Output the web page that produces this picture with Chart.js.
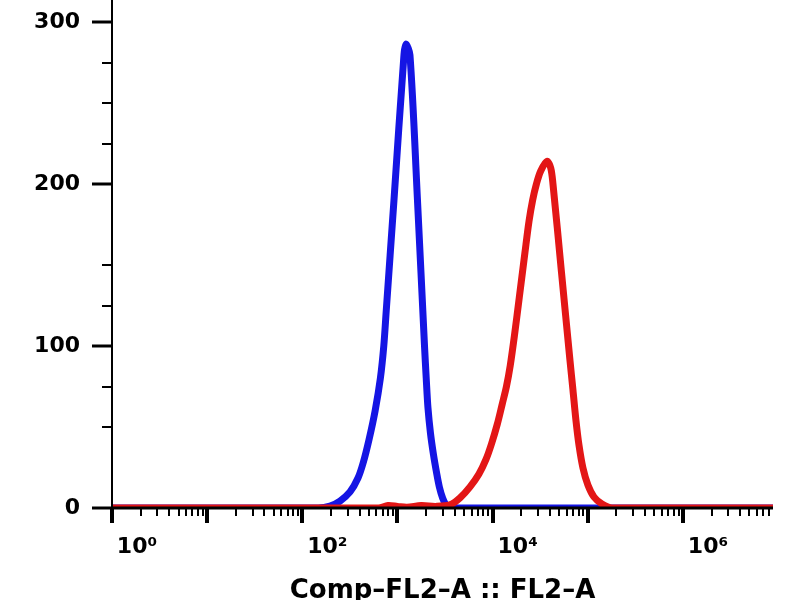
<!DOCTYPE html>
<html>
<head>
<meta charset="utf-8">
<script src="https://cdn.jsdelivr.net/npm/chart.js@4.4.0/dist/chart.umd.min.js"></script>
<style>
  html, body { margin: 0; padding: 0; background: #fff; }
</style>
</head>
<body>
<canvas id="c" width="800" height="600"></canvas>
<script>
// x values are in decades (log10 of FL2-A), y values are counts
const blueX = [0, 2.165, 2.291, 2.396, 2.501, 2.585, 2.64, 2.70, 2.765, 2.82, 2.856, 2.882, 2.963, 3.068, 3.089, 3.131, 3.210, 3.284, 3.302, 3.32, 3.347, 3.378, 3.41, 3.44, 3.475, 3.51, 3.56, 3.64, 6.95];
const blueY = [0, 0, 1.2, 4.3, 9.9, 18.5, 28, 42, 60, 80, 100, 122, 190, 279.6, 286.4, 279.6, 190, 100, 80, 62, 46, 33, 22, 13, 6, 2, 0.5, 0, 0];

const redX = [0, 2.8, 2.9, 3.0, 3.1, 3.25, 3.4, 3.552, 3.657, 3.762, 3.856, 3.93, 3.99, 4.05, 4.10, 4.145, 4.185, 4.228, 4.28, 4.34, 4.382, 4.42, 4.46, 4.505, 4.571, 4.61, 4.634, 4.723, 4.812, 4.844, 4.875, 4.907, 4.949, 5.001, 5.065, 5.149, 5.254, 6.95];
const redY = [0, 0, 1.5, 1, 0.5, 1.5, 1, 1.9, 6.2, 13, 21, 30, 40, 52, 64, 75, 88, 106, 130, 158, 177, 190, 200, 208, 214, 210, 200, 145.7, 91.4, 72.8, 54.3, 38.9, 24.7, 14.2, 6.8, 2.5, 0, 0];

const xTickValues = [0, 2, 4, 6];
const xTickLabels = ['10⁰', '10²', '10⁴', '10⁶'];
const yTickValues = [0, 100, 200, 300];
const yMinorValues = [50, 75, 125, 150, 225, 250, 275];
const xTitle = 'Comp–FL2–A :: FL2–A';

function toPoints(xs, ys) {
    return xs.map((x, i) => ({ x: x, y: ys[i] }));
}

// axis lines and tick marks, drawn on top of the curves
const tickMarks = {
    id: 'tickMarks',
    afterDraw(chart) {
        const ctx = chart.ctx;
        const xs = chart.scales.x;
        const ys = chart.scales.y;
        const area = chart.chartArea;
        ctx.save();
        ctx.strokeStyle = '#000';

        // x axis minor/major ticks per decade
        for (let d = 0; d <= 6; d++) {
            for (let m = 1; m <= 9; m++) {
                const v = d + Math.log10(m);
                if (v > xs.max) break;
                const px = Math.round(xs.getPixelForValue(v));
                const major = m === 1;
                ctx.lineWidth = major ? 4 : 2;
                ctx.beginPath();
                ctx.moveTo(px, area.bottom);
                ctx.lineTo(px, area.bottom + (major ? 15 : 8));
                ctx.stroke();
            }
        }

        // y axis ticks
        yTickValues.forEach(v => {
            const py = Math.round(ys.getPixelForValue(v));
            ctx.lineWidth = 3;
            ctx.beginPath();
            ctx.moveTo(area.left - 20, py);
            ctx.lineTo(area.left, py);
            ctx.stroke();
        });
        yMinorValues.forEach(v => {
            const py = Math.round(ys.getPixelForValue(v));
            ctx.lineWidth = 2;
            ctx.beginPath();
            ctx.moveTo(area.left - 10, py);
            ctx.lineTo(area.left, py);
            ctx.stroke();
        });

        // axis lines
        ctx.lineWidth = 2;
        ctx.beginPath();
        ctx.moveTo(area.left, area.top);
        ctx.lineTo(area.left, area.bottom);
        ctx.stroke();
        ctx.lineWidth = 3;
        ctx.beginPath();
        ctx.moveTo(area.left - 1, area.bottom);
        ctx.lineTo(area.right, area.bottom);
        ctx.stroke();
        ctx.restore();
    }
};

new Chart(document.getElementById('c').getContext('2d'), {
    type: 'line',
    data: {
        datasets: [
            {
                label: 'stained',
                data: toPoints(redX, redY),
                borderColor: '#e31616',
                clip: { left: 0, right: 0, top: 10, bottom: 0 }
            },
            {
                label: 'control',
                data: toPoints(blueX, blueY),
                borderColor: '#1515e4',
                clip: { left: 0, right: 0, top: 10, bottom: 0 }
            }
        ]
    },
    options: {
        responsive: false,
        animation: false,
        devicePixelRatio: 1,
        layout: { padding: { left: 0, right: 27, top: 0, bottom: 0 } },
        elements: {
            point: { radius: 0 },
            line: {
                borderWidth: 7,
                tension: 0.3,
                borderJoinStyle: 'round',
                borderCapStyle: 'round',
                fill: false
            }
        },
        plugins: {
            legend: { display: false },
            tooltip: { enabled: false }
        },
        scales: {
            x: {
                type: 'linear',
                min: 0,
                max: 6.946,
                grid: { display: false, drawTicks: false },
                border: { display: false },
                afterBuildTicks: scale => {
                    scale.ticks = xTickValues.map(v => ({ value: v }));
                },
                afterFit: scale => {
                    scale.height = 92;
                    scale.paddingLeft = 0;
                    scale.paddingRight = 0;
                },
                ticks: {
                    padding: 26,
                    labelOffset: 25,
                    maxRotation: 0,
                    color: '#000',
                    font: { family: 'DejaVu Sans', size: 22, weight: 'bold' },
                    callback: (value) => xTickLabels[xTickValues.indexOf(value)]
                },
                title: {
                    display: true,
                    text: xTitle,
                    color: '#000',
                    font: { family: 'DejaVu Sans', size: 26, weight: 'bold', lineHeight: 1 },
                    padding: { top: 0, bottom: -4 }
                }
            },
            y: {
                type: 'linear',
                min: 0,
                max: 313.6,
                grid: { display: false, drawTicks: false },
                border: { display: false },
                afterBuildTicks: scale => {
                    scale.ticks = yTickValues.map(v => ({ value: v }));
                },
                afterFit: scale => {
                    scale.width = 112;
                    scale.paddingTop = 0;
                    scale.paddingBottom = 0;
                },
                ticks: {
                    padding: 32,
                    color: '#000',
                    font: { family: 'DejaVu Sans', size: 22, weight: 'bold' }
                }
            }
        }
    },
    plugins: [tickMarks]
});
</script>
</body>
</html>
